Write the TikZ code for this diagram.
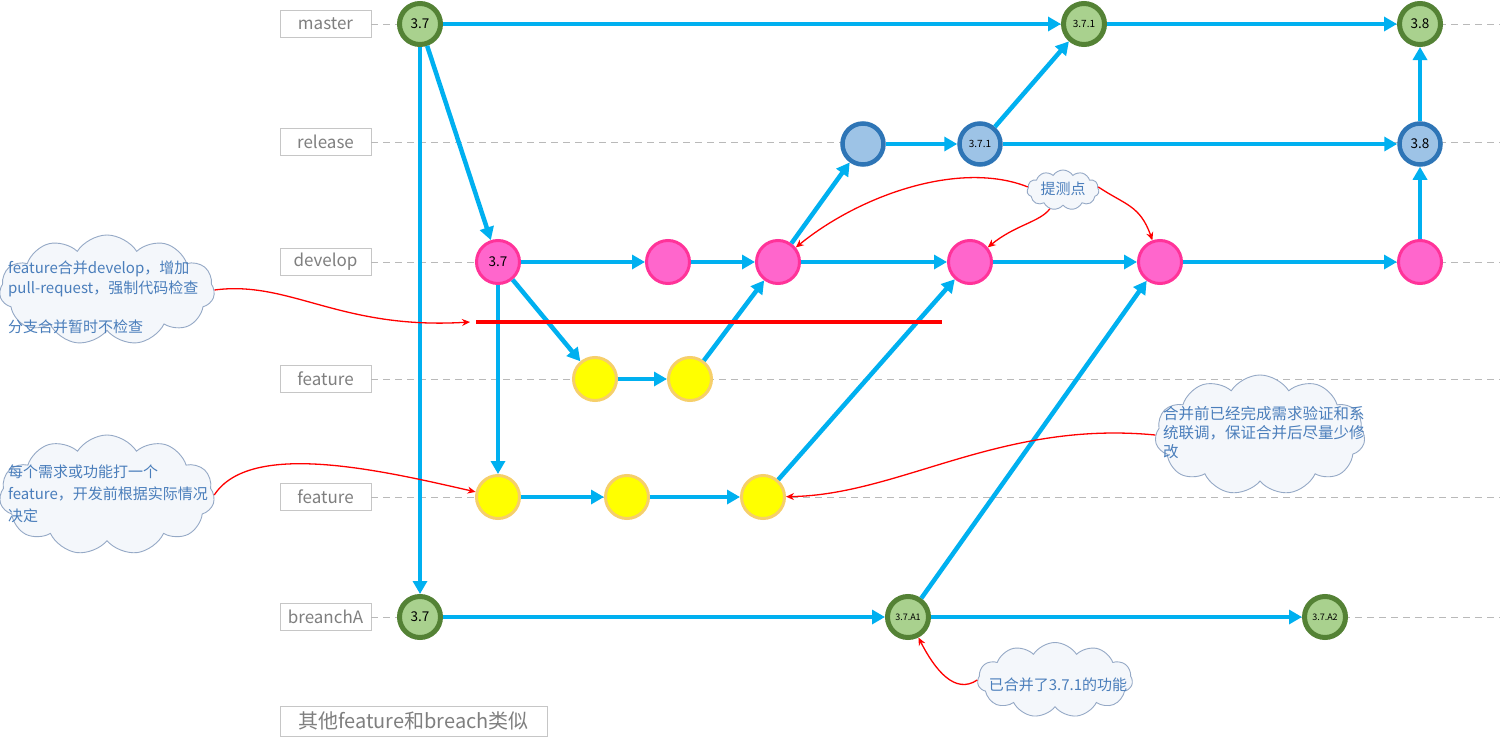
\documentclass[tikz,border=0pt]{standalone}
\usepackage{fontspec}
\setmainfont{Noto Sans CJK SC}
\usetikzlibrary{arrows.meta,shapes.symbols}
\definecolor{flowcolor}{HTML}{00B0F0}
\definecolor{tagfill}{HTML}{A9D18E}
\definecolor{tagborder}{HTML}{548235}
\definecolor{relfill}{HTML}{9DC3E6}
\definecolor{relborder}{HTML}{2E75B6}
\definecolor{devfill}{HTML}{FF66CC}
\definecolor{devborder}{HTML}{FF3399}
\definecolor{featfill}{HTML}{FFFF00}
\definecolor{featborder}{HTML}{F6CF6A}
\definecolor{notecolor}{HTML}{4A7EBB}
\definecolor{cloudborder}{HTML}{95A9C6}
\definecolor{cloudfill}{HTML}{F4F7FB}
\definecolor{lanecolor}{HTML}{7F7F7F}
\tikzset{
  lane label/.style={draw=gray!45,text=lanecolor,minimum width=91pt,minimum height=27pt,
    inner sep=0pt,font=\fontsize{17}{19}\selectfont},
  lane guide/.style={gray!55,line width=.8pt,dash pattern=on 7pt off 5pt},
  commit/.style={circle,inner sep=0pt,font=\fontsize{13.5}{15}\selectfont},
  tag commit/.style={commit,draw=tagborder,fill=tagfill,line width=5pt,minimum size=41pt},
  rel commit/.style={commit,draw=relborder,fill=relfill,line width=4.5pt,minimum size=41pt},
  dev commit/.style={commit,draw=devborder,fill=devfill,line width=3pt,minimum size=43pt},
  feat commit/.style={commit,draw=featborder,fill=featfill,line width=3pt,minimum size=43pt},
  small tag/.style={font=\fontsize{10}{11}\selectfont},
  tiny tag/.style={font=\fontsize{9}{10}\selectfont},
  flow/.style={flowcolor,line width=4.5pt,-{Triangle[length=13pt,width=14pt]}},
  note cloud/.style={cloud,cloud puffs=11,cloud puff arc=115,cloud ignores aspect,
    draw=cloudborder,fill=cloudfill,line width=.9pt,inner sep=0pt},
  note text/.style={text=notecolor,align=left,inner sep=0pt,font=\fontsize{15}{20}\selectfont},
  note arrow/.style={red,line width=1.3pt,-{Stealth[length=8pt,width=7pt]}},
  gate/.style={red,line width=4pt}
}
\begin{document}
\begin{tikzpicture}[x=1pt,y=-1pt]
  \useasboundingbox[fill=white] (0,0) rectangle (1500,744);
  \coordinate (rim) at (1500,0);
  \foreach \lab/\y [count=\i] in {master/24,release/142,develop/262,feature/379,feature/497,breanchA/617}{
    \node[lane label] (lane\i) at (325.5,\y) {\lab};
    \draw[lane guide] (lane\i.east) -- (lane\i.east -| rim);
  }
  \node[lane label,minimum width=267pt,minimum height=30pt,font=\fontsize{20}{22}\selectfont]
    (other) at (413.5,721) {其他feature和breach类似};

  \node[tag commit] (m37) at (420,24) {3.7};
  \node[tag commit,small tag] (m371) at (1084,24) {3.7.1};
  \node[tag commit] (m38) at (1420,24) {3.8};
  \node[rel commit] (r1) at (863,144) {};
  \node[rel commit,small tag] (r371) at (980,144) {3.7.1};
  \node[rel commit] (r38) at (1420,144) {3.8};
  \node[dev commit] (d37) at (498,262) {3.7};
  \node[dev commit] (d2) at (668,262) {};
  \node[dev commit] (d3) at (778,262) {};
  \node[dev commit] (d4) at (970,262) {};
  \node[dev commit] (d5) at (1160,262) {};
  \node[dev commit] (d6) at (1420,262) {};
  \node[feat commit] (f1) at (595,379) {};
  \node[feat commit] (f2) at (690,379) {};
  \node[feat commit] (g1) at (498,497) {};
  \node[feat commit] (g2) at (627,497) {};
  \node[feat commit] (g3) at (763,497) {};
  \node[tag commit] (b37) at (420,617) {3.7};
  \node[tag commit,tiny tag] (ba1) at (908,617) {3.7.A1};
  \node[tag commit,tiny tag] (ba2) at (1325,617) {3.7.A2};

  \foreach \a/\b in {m37/m371,m371/m38,m37/d37,m37/b37,r1/r371,r371/m371,r371/r38,r38/m38,
    d37/d2,d2/d3,d3/r1,d3/d4,d4/d5,d5/d6,d6/r38,d37/f1,f1/f2,f2/d3,
    d37/g1,g1/g2,g2/g3,g3/d4,b37/ba1,ba1/ba2,ba1/d5}
    \draw[flow] (\a) -- (\b);

  \coordinate (gateA) at (476,322);
  \coordinate (gateB) at (942,322);
  \draw[gate] (gateA) -- (gateB);

  \node[note cloud,minimum width=215pt,minimum height=110pt] (c1) at (107,290) {};
  \node[note text,text width=210pt,anchor=west] (t1) at (8,297)
    {feature合并develop，增加\\pull-request，强制代码检查\\[19pt]分支合并暂时不检查};
  \node[note cloud,minimum width=215pt,minimum height=120pt] (c2) at (107,495) {};
  \node[note text,text width=210pt,anchor=west,font=\fontsize{15}{22}\selectfont] (t2) at (8,494)
    {每个需求或功能打一个\\feature，开发前根据实际情况\\决定};
  \node[note cloud,minimum width=210pt,minimum height=120pt] (c3) at (1260,435) {};
  \node[note text,text width=215pt,anchor=west,font=\fontsize{15.5}{19}\selectfont] (t3) at (1163,433)
    {合并前已经完成需求验证和系\\统联调，保证合并后尽量少修\\改};
  \node[note cloud,minimum width=155pt,minimum height=75pt] (c4) at (1055,680) {};
  \node[note text] (t4) at (1058,685) {已合并了3.7.1的功能};
  \node[note cloud,minimum width=72pt,minimum height=40pt] (c5) at (1063,190) {};
  \node[note text] (t5) at (1063,189) {提测点};

  \draw[note arrow] (c1.east) .. controls (290,280) and (340,330) .. ([xshift=-6pt]gateA);
  \draw[note arrow] (c2.east) .. controls (250,440) and (380,470) .. ([xshift=-28pt,yshift=7pt]g1);
  \draw[note arrow] (c3.west) .. controls (1000,420) and (900,495) .. ([xshift=37pt,yshift=5pt]g3);
  \draw[note arrow] (c4.west) .. controls (955,695) and (935,670) .. ([xshift=28pt,yshift=-28pt]ba1);
  \draw[note arrow] (c5.175) .. controls (960,160) and (860,195) .. ([xshift=34pt,yshift=20pt]d3);
  \draw[note arrow] (c5.235) .. controls (1040,222) and (1015,225) .. ([xshift=33pt,yshift=17pt]d4);
  \draw[note arrow] (c5.5) .. controls (1125,205) and (1140,205) .. ([xshift=-20pt,yshift=24pt]d5);
\end{tikzpicture}
\end{document}
